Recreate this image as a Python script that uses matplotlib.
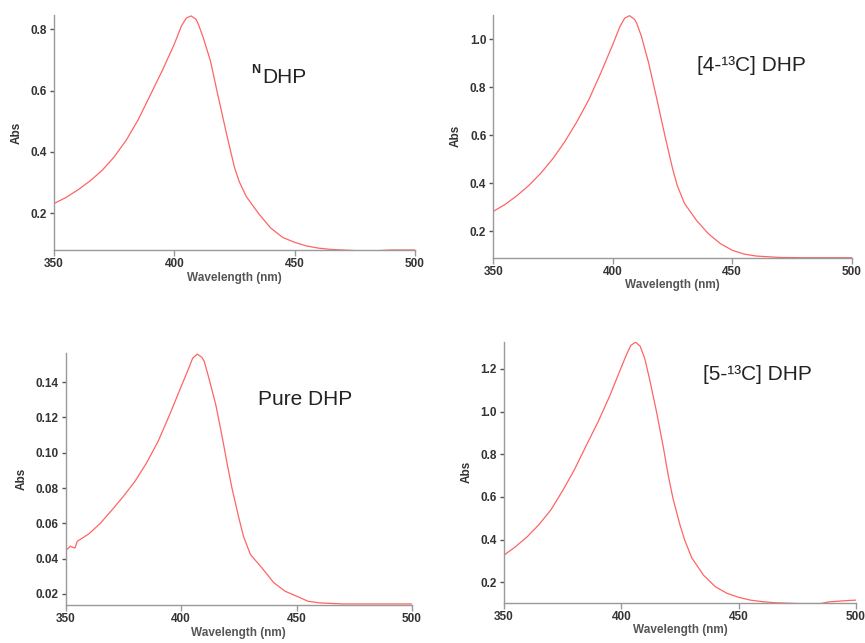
import matplotlib
matplotlib.use("Agg")
import matplotlib.pyplot as plt

plt.rcParams['font.family'] = ['Liberation Sans', 'DejaVu Sans']

# NDHP spectrum
wl_ndhp = [350, 355, 360, 365, 370, 375, 380, 385, 390, 395, 400, 403, 405, 407, 409, 410, 412,
           415, 418, 420, 422, 425, 427, 430, 435, 440, 445, 450, 455, 460, 465, 470, 475, 485, 490, 500]
abs_ndhp = [0.232, 0.252, 0.277, 0.306, 0.340, 0.384, 0.438, 0.505, 0.585, 0.665, 0.751, 0.811, 0.836,
            0.843, 0.832, 0.816, 0.773, 0.697, 0.589, 0.519, 0.449, 0.350, 0.303, 0.254, 0.200, 0.153,
            0.122, 0.106, 0.094, 0.087, 0.083, 0.081, 0.079, 0.079, 0.081, 0.081]

# [4-13C] DHP spectrum
wl_c4 = [350, 355, 360, 365, 370, 375, 380, 385, 390, 395, 400, 403, 405, 407, 409, 410, 412,
         415, 418, 420, 422, 425, 427, 430, 435, 440, 445, 450, 455, 460, 470, 480, 490, 500]
abs_c4 = [0.283, 0.312, 0.349, 0.392, 0.443, 0.503, 0.574, 0.656, 0.748, 0.859, 0.977, 1.052, 1.087,
          1.097, 1.083, 1.066, 1.011, 0.901, 0.770, 0.680, 0.590, 0.462, 0.390, 0.316, 0.246, 0.190,
          0.149, 0.121, 0.105, 0.097, 0.091, 0.090, 0.090, 0.090]

# pure DHP spectrum
wl_pure = [350, 352, 353, 354, 355, 360, 365, 370, 375, 380, 385, 390, 395, 400, 403, 405, 407, 409,
           410, 412, 415, 418, 420, 422, 425, 427, 430, 435, 440, 445, 450, 455, 460, 470, 480, 490, 500]
abs_pure = [0.0445, 0.047, 0.0464, 0.046, 0.0498, 0.054, 0.060, 0.0675, 0.0753, 0.0838, 0.0942, 0.1064,
            0.1215, 0.1375, 0.147, 0.1536, 0.1559, 0.154, 0.1517, 0.1423, 0.1272, 0.1074, 0.0932, 0.080,
            0.063, 0.0526, 0.0423, 0.0347, 0.0265, 0.0215, 0.0187, 0.0158, 0.0149, 0.0143, 0.0143,
            0.0143, 0.0143]

# [5-13C] DHP spectrum
wl_c5 = [350, 355, 360, 365, 370, 375, 380, 385, 390, 395, 400, 402, 404, 406, 408, 410, 412, 415,
         418, 420, 422, 425, 427, 430, 435, 440, 445, 450, 455, 460, 465, 470, 475, 485, 488, 490, 495, 500]
abs_c5 = [0.328, 0.368, 0.415, 0.472, 0.540, 0.630, 0.728, 0.840, 0.950, 1.072, 1.208, 1.262, 1.309,
          1.325, 1.306, 1.247, 1.153, 0.998, 0.826, 0.700, 0.593, 0.468, 0.398, 0.315, 0.234, 0.180,
          0.149, 0.130, 0.117, 0.110, 0.105, 0.103, 0.101, 0.101, 0.108, 0.110, 0.114, 0.117]

xticks = [350, 400, 450, 500]

panels = [
    # axes rect, x, y, ylim, yticks, tick fmt, label, label pos (px from top-left)
    ([0.0624, 0.6112, 0.4173, 0.3655], wl_ndhp, abs_ndhp, (0.081, 0.846),
     [0.2, 0.4, 0.6, 0.8], "{:.1f}", "DHP", (262, 83)),
    ([0.5703, 0.5992, 0.4143, 0.3775], wl_c4, abs_c4, (0.090, 1.100),
     [0.2, 0.4, 0.6, 0.8, 1.0], "{:.1f}", "[4-¹³C] DHP", (697, 71)),
    ([0.0760, 0.0591, 0.4003, 0.3919], wl_pure, abs_pure, (0.0137, 0.1565),
     [0.02, 0.04, 0.06, 0.08, 0.10, 0.12, 0.14], "{:.2f}", "Pure DHP", (258, 405)),
    ([0.5827, 0.0627, 0.4069, 0.4059], wl_c5, abs_c5, (0.105, 1.327),
     [0.2, 0.4, 0.6, 0.8, 1.0, 1.2], "{:.1f}", "[5-¹³C] DHP", (703, 380)),
]

fig = plt.figure(figsize=(8.65, 6.43), dpi=100)
W, H = 865, 643

for rect, x, y, ylim, yticks, fmt, label, (lx, ly) in panels:
    ax = fig.add_axes(rect)
    ax.plot(x, y, color="#ff6464", lw=0.9)
    ax.set_xlim(350, 500)
    ax.set_ylim(*ylim)
    ax.set_xticks(xticks)
    ax.set_xticklabels([str(t) for t in xticks])
    ax.set_yticks(yticks)
    ax.set_yticklabels([fmt.format(t) for t in yticks])
    for s in ["top", "right"]:
        ax.spines[s].set_visible(False)
    for s in ["left", "bottom"]:
        ax.spines[s].set_color("#999999")
        ax.spines[s].set_linewidth(1.0)
    ax.tick_params(axis="x", length=4, width=1, color="#999999", labelsize=8.5,
                   labelcolor="#333333", pad=2)
    ax.tick_params(axis="y", length=3, width=1, color="#555555", labelsize=8.5,
                   labelcolor="#333333", pad=2)
    for t in ax.get_xticklabels() + ax.get_yticklabels():
        t.set_fontweight("bold")
    ax.set_xlabel("Wavelength (nm)", fontsize=8.5, fontweight="bold", color="#555555", labelpad=1)
    ax.set_ylabel("Abs", fontsize=8.5, fontweight="bold", color="#333333", labelpad=6)
    fig.text(lx / W, 1 - ly / H, label, fontsize=15, color="#222222", ha="left", va="baseline")

# small bold superscript N in front of the first label
fig.text(251 / W, 1 - 73 / H, "N", fontsize=9, fontweight="bold", color="#222222",
         ha="left", va="baseline")

fig.savefig("out.png", dpi=100, facecolor="white")
